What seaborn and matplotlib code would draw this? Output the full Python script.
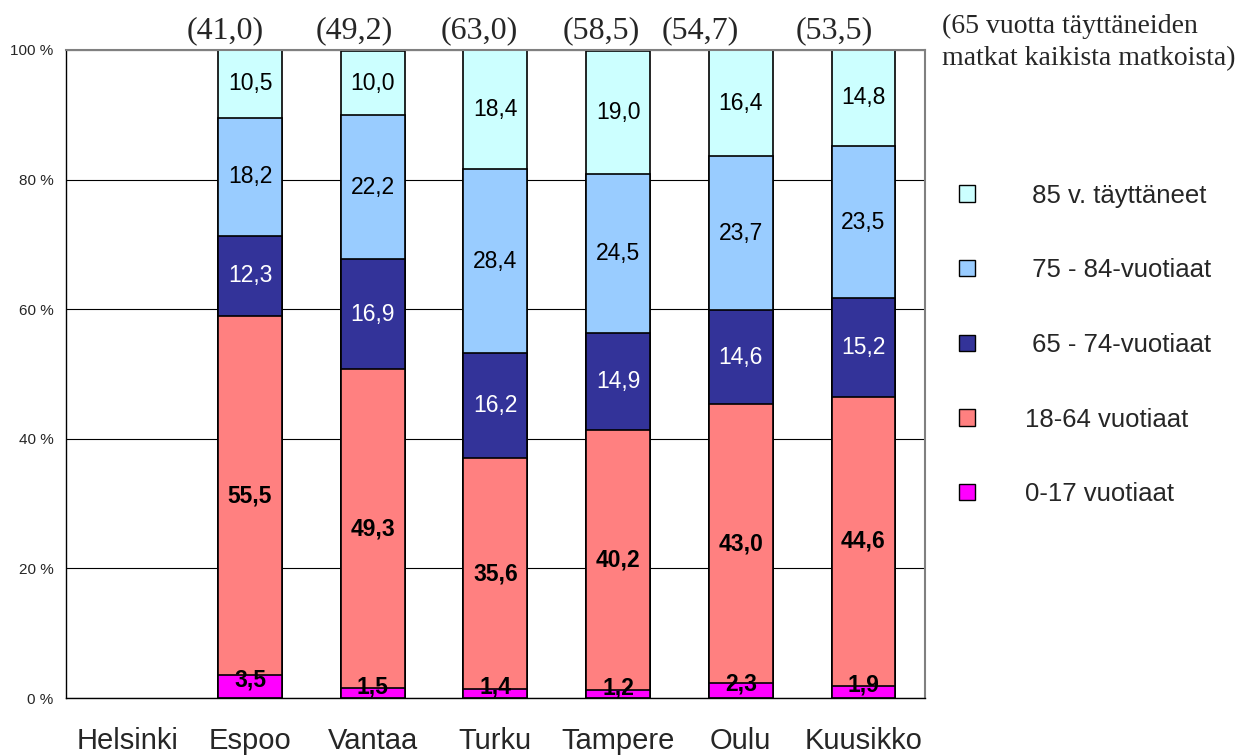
import numpy as np
import pandas as pd
import seaborn as sns
import matplotlib.pyplot as plt
from matplotlib.patches import Patch

cities = ['Helsinki', 'Espoo', 'Vantaa', 'Turku', 'Tampere', 'Oulu', 'Kuusikko']
groups = ['0-17 vuotiaat', '18-64 vuotiaat', ' 65 - 74-vuotiaat',
          ' 75 - 84-vuotiaat', ' 85 v. täyttäneet']
colors = ['#FF00FF', '#FF8080', '#333399', '#99CCFF', '#CCFFFF']

# Helsinki has no values in the chart
age_0_17 = [np.nan, 3.5, 1.5, 1.4, 1.2, 2.3, 1.9]
age_18_64 = [np.nan, 55.5, 49.3, 35.6, 40.2, 43.0, 44.6]
age_65_74 = [np.nan, 12.3, 16.9, 16.2, 14.9, 14.6, 15.2]
age_75_84 = [np.nan, 18.2, 22.2, 28.4, 24.5, 23.7, 23.5]
age_85 = [np.nan, 10.5, 10.0, 18.4, 19.0, 16.4, 14.8]
share_65 = ['', '(41,0)', '(49,2)', '(63,0)', '(58,5)', '(54,7)', '(53,5)']

series = [age_0_17, age_18_64, age_65_74, age_75_84, age_85]

df = pd.DataFrame({'city': cities})
for g, vals in zip(groups, series):
	df[g] = vals
df = df.dropna()
cum = df[groups].cumsum(axis=1)
cum['city'] = df['city']

sns.set_style('white')
plt.rcParams['font.family'] = ['Liberation Sans', 'DejaVu Sans']

fig = plt.figure(figsize=(12.38, 7.56), dpi=100)
ax = fig.add_axes([0.0533, 0.0767, 0.6937, 0.8572])

# stacked bars: draw cumulative heights from the top layer down
for i in range(len(groups) - 1, -1, -1):
	sns.barplot(data=cum, x='city', y=groups[i], order=cities, color=colors[i],
		saturation=1, width=0.52, edgecolor='black', linewidth=1.2,
		errorbar=None, ax=ax, zorder=2)

# value labels
for _, row in df.iterrows():
	x = cities.index(row['city'])
	bottom = 0
	for i, g in enumerate(groups):
		v = row[g]
		txt = ('%.1f' % v).replace('.', ',')
		if i == 0:
			y = v / 2 + 1.0
		else:
			y = bottom + v / 2
		ax.text(x, y, txt, ha='center', va='center', fontsize=16.5,
			color='white' if i == 2 else 'black',
			fontweight='bold' if i < 2 else 'normal', zorder=5)
		bottom += v

# the share labels above the bars sit a bit left of the bar centres
share_shift = [0, -0.2, -0.15, -0.13, -0.14, -0.33, -0.24]
for x, s in enumerate(share_65):
	ax.text(x + share_shift[x], 103.0, s, ha='center', va='center', fontsize=23,
		family='Liberation Serif', clip_on=False)

ax.set_xlim(-0.5, 6.5)
ax.set_ylim(0, 100)
ax.set_yticks(range(0, 101, 20))
ax.set_yticklabels(['%d %%' % t for t in range(0, 101, 20)], fontsize=11)
ax.set_xticks(range(len(cities)))
ax.set_xticklabels(cities, fontsize=21)
ax.set_xticks(np.arange(-0.5, 7, 1), minor=True)
ax.tick_params(axis='x', which='major', length=0, pad=21)
ax.tick_params(axis='x', which='minor', length=8, width=1, color='black', direction='out')
ax.tick_params(axis='y', length=5, width=1, color='black', direction='out', pad=4)
ax.set_xlabel('')
ax.set_ylabel('')

ax.yaxis.grid(True, color='black', lw=0.8)
ax.set_axisbelow(True)
for side in ['left', 'bottom']:
	ax.spines[side].set_color('black')
	ax.spines[side].set_linewidth(1)
for side in ['top', 'right']:
	ax.spines[side].set_color('#808080')
	ax.spines[side].set_linewidth(1.5)

handles = [Patch(facecolor=colors[i], edgecolor='black', lw=1) for i in range(len(groups) - 1, -1, -1)]
labels = [groups[i] for i in range(len(groups) - 1, -1, -1)]
fig.legend(handles, labels, loc='upper left', bbox_to_anchor=(0.775, 0.757),
	frameon=False, fontsize=18.5, handlelength=0.6, handleheight=0.6,
	handletextpad=1.95, labelspacing=1.97, borderpad=0, borderaxespad=0)

fig.text(0.761, 0.982, '(65 vuotta täyttäneiden\nmatkat kaikista matkoista)',
	fontsize=20, family='Liberation Serif', ha='left', va='top', linespacing=1.38)

fig.savefig('out.png', dpi=100)
